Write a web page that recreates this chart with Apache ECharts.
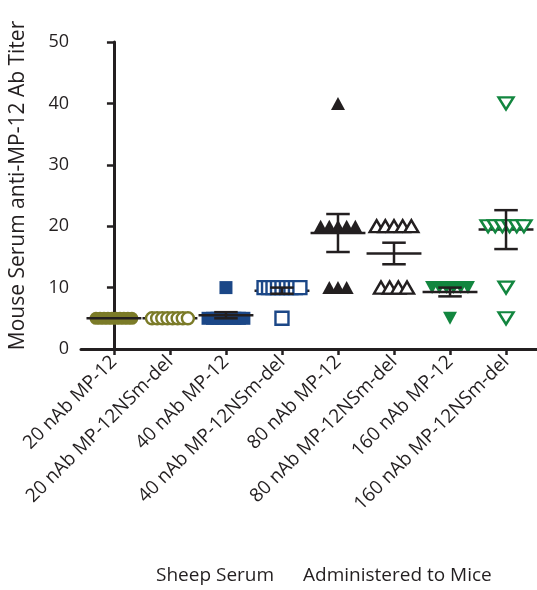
<!DOCTYPE html>
<html>
<head>
<meta charset="utf-8">
<script src="https://cdn.jsdelivr.net/npm/echarts@6/dist/echarts.min.js"></script>
<style>
  html, body { margin: 0; padding: 0; background: #fff; }
  #chart { width: 537px; height: 590px; }
</style>
</head>
<body>
<div id="chart"></div>
<script>
// Group names (dose of sheep serum and virus)
const categories = [
  '20 nAb MP-12', '20 nAb MP-12NSm-del',
  '40 nAb MP-12', '40 nAb MP-12NSm-del',
  '80 nAb MP-12', '80 nAb MP-12NSm-del',
  '160 nAb MP-12', '160 nAb MP-12NSm-del'
];

// Individual mouse titers per group
const titer20MP12   = [5, 5, 5, 5, 5, 5, 5, 5, 5, 5];
const titer20NSmDel = [5, 5, 5, 5, 5, 5, 5, 5];
const titer40MP12   = [10, 5, 5, 5, 5, 5, 5, 5, 5, 5];
const titer40NSmDel = [10, 10, 10, 10, 10, 10, 10, 10, 10, 5];
const titer80MP12   = [40, 20, 20, 20, 20, 20, 10, 10, 10];
const titer80NSmDel = [20, 20, 20, 20, 20, 10, 10, 10, 10];
const titer160MP12  = [10, 10, 10, 10, 10, 10, 5];
const titer160NSmDel = [40, 20, 20, 20, 20, 20, 20, 10, 5];

const yTicks = [0, 10, 20, 30, 40, 50];

const groups = [titer20MP12, titer20NSmDel, titer40MP12, titer40NSmDel,
                titer80MP12, titer80NSmDel, titer160MP12, titer160NSmDel];

// Marker look for each group
const olive = '#7b7b28', blue = '#1b4787', green = '#12863f', ink = '#231f20';
const markerStyles = [
  { symbol: 'circle',   color: olive, open: false, size: 13, rotate: 0 },
  { symbol: 'circle',   color: olive, open: true,  size: 12, rotate: 0 },
  { symbol: 'rect',     color: blue,  open: false, size: 13, rotate: 0 },
  { symbol: 'rect',     color: blue,  open: true,  size: 13, rotate: 0 },
  { symbol: 'triangle', color: ink,   open: false, size: [14, 13], rotate: 0 },
  { symbol: 'triangle', color: ink,   open: true,  size: [14, 12], rotate: 0 },
  { symbol: 'triangle', color: green, open: false, size: [14, 13], rotate: 180 },
  { symbol: 'triangle', color: green, open: true,  size: [15, 12], rotate: 180 }
];

// Spread equal values sideways so every animal stays visible
function spread(values, idx) {
  const byValue = {};
  values.forEach(v => { (byValue[v] = byValue[v] || []).push(v); });
  const pts = [];
  Object.keys(byValue).forEach(k => {
    const n = byValue[k].length;
    const step = n > 1 ? Math.min(0.155, 0.64 / (n - 1)) : 0;
    byValue[k].forEach((v, j) => pts.push([idx + (j - (n - 1) / 2) * step, v]));
  });
  return pts;
}

function meanSem(values) {
  const n = values.length;
  const m = values.reduce((a, b) => a + b, 0) / n;
  const sd = Math.sqrt(values.reduce((a, b) => a + (b - m) * (b - m), 0) / (n - 1));
  return [m, sd / Math.sqrt(n)];
}

const summary = groups.map((g, i) => { const s = meanSem(g); return [i, s[0], s[1]]; });

// Layers: filled markers, then mean lines, then white-filled open markers, then SEM bars
const scatterSeries = groups.map((g, i) => {
  const st = markerStyles[i];
  return {
    type: 'scatter',
    name: categories[i],
    data: spread(g, i),
    symbol: st.symbol,
    symbolSize: st.size,
    symbolRotate: st.rotate,
    zlevel: st.open ? 2 : 0,
    z: 2,
    itemStyle: st.open
      ? { color: '#ffffff', borderColor: st.color, borderWidth: 2.4, opacity: 1 }
      : { color: st.color, opacity: 1 },
    emphasis: { disabled: true },
    silent: true
  };
});

const font = '"Open Sans"';
const chart = echarts.init(document.getElementById('chart'), null, { renderer: 'canvas' });

chart.setOption({
  animation: false,
  backgroundColor: '#ffffff',
  textStyle: { fontFamily: 'Open Sans' },
  grid: { left: 80, right: 0, top: 42, bottom: 241, containLabel: false },
  xAxis: {
    type: 'value',
    min: -0.588,
    max: 7.553,
    splitLine: { show: false },
    axisLine: { show: true, onZero: false, lineStyle: { color: ink, width: 3 } },
    axisTick: {
      show: true, length: 6, customValues: categories.map((c, i) => i),
      lineStyle: { color: ink, width: 2.5 }
    },
    axisLabel: {
      customValues: categories.map((c, i) => i),
      formatter: v => categories[Math.round(v)],
      rotate: 45, margin: 10, fontSize: 19, color: ink, fontFamily: 'Open Sans'
    }
  },
  yAxis: {
    type: 'value',
    min: 0, max: 50, interval: 10,
    name: 'Mouse Serum anti-MP-12 Ab Titer',
    nameLocation: 'middle',
    nameGap: 52,
    nameTextStyle: { fontSize: 21, color: ink, fontFamily: 'Open Sans', padding: [0, 0, 0, 20] },
    splitLine: { show: false },
    axisLine: { show: true, lineStyle: { color: ink, width: 3 } },
    axisTick: { show: true, length: 7, lineStyle: { color: ink, width: 2.5 } },
    axisLabel: {
      customValues: yTicks,
      margin: 12, fontSize: 18, color: ink, fontFamily: 'Open Sans'
    }
  },
  graphic: [
    { type: 'text', left: 156, top: 566,
      style: { text: 'Sheep Serum', font: '19px ' + font, fill: ink } },
    { type: 'text', left: 303, top: 566,
      style: { text: 'Administered to Mice', font: '19px ' + font, fill: ink } }
  ],
  series: [
    ...scatterSeries,
    {
      // group mean lines
      type: 'custom',
      zlevel: 1,
      silent: true,
      data: summary,
      renderItem: (params, api) => {
        const p = api.coord([api.value(0), api.value(1)]);
        const half = api.size([0.49, 0])[0];
        return {
          type: 'line',
          shape: { x1: p[0] - half, y1: p[1], x2: p[0] + half, y2: p[1] },
          style: { stroke: ink, lineWidth: 2.5 }
        };
      }
    },
    {
      // SEM error bars
      type: 'custom',
      zlevel: 3,
      silent: true,
      data: summary,
      renderItem: (params, api) => {
        const i = api.value(0), m = api.value(1), s = api.value(2);
        if (s <= 0) return null;
        const top = api.coord([i, m + s]);
        const bot = api.coord([i, m - s]);
        const cap = api.size([0.21, 0])[0];
        const st = { stroke: ink, lineWidth: 2.5 };
        return {
          type: 'group',
          children: [
            { type: 'line', shape: { x1: top[0], y1: top[1], x2: bot[0], y2: bot[1] }, style: st },
            { type: 'line', shape: { x1: top[0] - cap, y1: top[1], x2: top[0] + cap, y2: top[1] }, style: st },
            { type: 'line', shape: { x1: bot[0] - cap, y1: bot[1], x2: bot[0] + cap, y2: bot[1] }, style: st }
          ]
        };
      }
    }
  ]
});
</script>
</body>
</html>
